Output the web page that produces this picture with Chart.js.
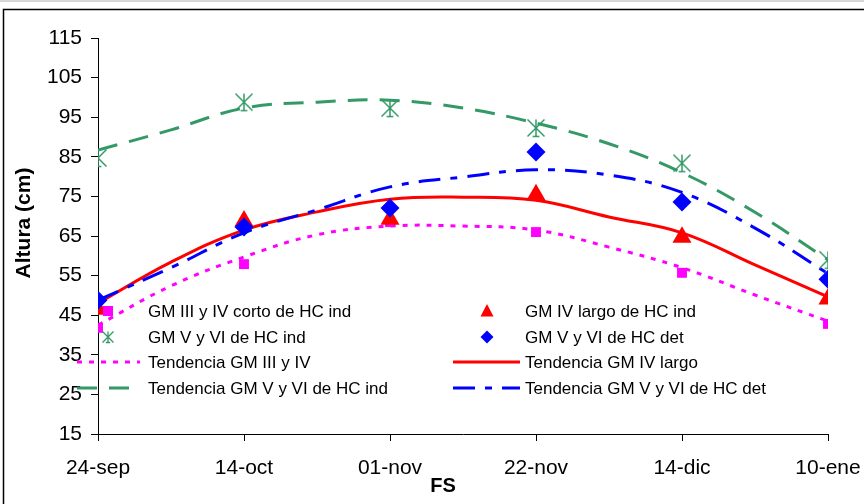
<!DOCTYPE html>
<html lang="es">
<head>
<meta charset="UTF-8">
<title>Altura (cm) por FS</title>
<script src="https://cdn.jsdelivr.net/npm/chart.js"></script>
<style>
  body { margin: 0; background: #fff; }
  canvas { display: block; }
</style>
</head>
<body>
<canvas id="grafico" width="864" height="504"></canvas>
<script>
// fechas de siembra (eje X, categorias equiespaciadas)
const fechas = ['24-sep', '14-oct', '01-nov', '22-nov', '14-dic', '10-ene'];
const posFechas = [0, 1, 2, 3, 4, 5];

// alturas medidas (cm)
const gm34Corto = [41.8, 57.9, 68.5, 66.0, 55.7, 42.8];
const gm4Largo  = [46.5, 68.8, 69.2, 75.4, 64.7, 49.1];
const gm56Ind   = [84.7, 98.8, 97.3, 92.3, 83.4, 59.0];
const gm56Det   = [48.8, 67.3, 72.1, 86.2, 73.6, 54.1];

const posTend   = [0, 0.5, 1, 1.5, 2, 2.5, 3, 3.5, 4, 4.5, 5];
const tend34    = [42.5, 52.4, 59.7, 65.3, 67.5, 67.5, 66.5, 62.2, 57.0, 50.1, 43.5];
const tend4L    = [48.0, 58.4, 66.5, 71.1, 74.3, 74.8, 74.0, 69.8, 65.8, 57.7, 49.6];
const tend56Ind = [86.7, 91.8, 97.3, 98.8, 99.3, 97.3, 93.5, 88.3, 81.0, 71.0, 59.0];
const tend56Det = [48.8, 57.0, 65.8, 71.6, 77.4, 79.9, 81.7, 80.4, 76.0, 67.0, 55.5];

const yTicks = [15, 25, 35, 45, 55, 65, 75, 85, 95, 105, 115];

const FONT = '"Liberation Sans", Arial, sans-serif';
const MAGENTA = '#FF00FF', ROJO = '#FF0000', VERDE = '#339966', AZUL = '#0000FF';

function pares(xs, ys) {
  return ys.map((v, i) => ({ x: xs[i], y: v }));
}

// asterisco tipo Excel
function dibujaEstrella(ctx, x, y, s, color, lw) {
  ctx.save();
  ctx.strokeStyle = color;
  ctx.lineWidth = lw;
  ctx.beginPath();
  ctx.moveTo(x - s, y - s); ctx.lineTo(x + s, y + s);
  ctx.moveTo(x + s, y - s); ctx.lineTo(x - s, y + s);
  ctx.moveTo(x, y - s); ctx.lineTo(x, y + s);
  ctx.moveTo(x - s * 0.4, y + s); ctx.lineTo(x + s * 0.4, y + s);
  ctx.stroke();
  ctx.restore();
}

const estrella = document.createElement('canvas');
estrella.width = 20; estrella.height = 20;
dibujaEstrella(estrella.getContext('2d'), 10, 10, 8.5, VERDE, 1.5);

function dibujaMarca(ctx, tipo, x, y, color) {
  ctx.save();
  ctx.fillStyle = color;
  ctx.beginPath();
  if (tipo === 'rect') {
    ctx.rect(x - 5, y - 5, 10, 10);
    ctx.fill();
  } else if (tipo === 'triangle') {
    ctx.moveTo(x, y - 7); ctx.lineTo(x + 6.5, y + 5.5); ctx.lineTo(x - 6.5, y + 5.5);
    ctx.closePath(); ctx.fill();
  } else if (tipo === 'rectRot') {
    ctx.moveTo(x, y - 6.5); ctx.lineTo(x + 6.5, y); ctx.lineTo(x, y + 6.5); ctx.lineTo(x - 6.5, y);
    ctx.closePath(); ctx.fill();
  } else if (tipo === 'star') {
    dibujaEstrella(ctx, x, y, 5.5, color, 1.3);
  }
  ctx.restore();
}

const leyenda = {
  id: 'leyenda',
  afterDraw(chart) {
    const ctx = chart.ctx;
    const filas = [311, 337, 362, 388];
    const cols = [{ c: 108, l0: 77, l1: 140, t: 148 }, { c: 487, l0: 453, l1: 520, t: 525 }];
    const orden = [0, 1, 2, 3, 4, 5, 6, 7];
    orden.forEach((di, k) => {
      const ds = chart.data.datasets[di];
      const col = cols[k % 2];
      const y = filas[Math.floor(k / 2)];
      if (ds.showLine === false) {
        dibujaMarca(ctx, ds.marca, col.c, y, ds.backgroundColor);
      } else {
        ctx.save();
        ctx.strokeStyle = ds.borderColor;
        ctx.lineWidth = 3;
        ctx.setLineDash(ds.borderDash || []);
        ctx.beginPath();
        ctx.moveTo(col.l0, y); ctx.lineTo(col.l1, y);
        ctx.stroke();
        ctx.restore();
      }
      ctx.save();
      ctx.fillStyle = '#000';
      ctx.font = '17px ' + FONT;
      ctx.textBaseline = 'middle';
      ctx.fillText(ds.label, col.t, y + 1);
      ctx.restore();
    });

    // titulos de ejes
    ctx.save();
    ctx.fillStyle = '#000';
    ctx.font = 'bold 21px ' + FONT;
    ctx.textAlign = 'center';
    ctx.textBaseline = 'middle';
    ctx.translate(24, 223);
    ctx.rotate(-Math.PI / 2);
    ctx.fillText('Altura (cm)', 0, 0);
    ctx.restore();

    ctx.save();
    ctx.fillStyle = '#000';
    ctx.font = 'bold 20px ' + FONT;
    ctx.textAlign = 'center';
    ctx.textBaseline = 'middle';
    ctx.fillText('FS', 443, 486);
    ctx.restore();

    // marco exterior
    ctx.save();
    ctx.strokeStyle = '#000';
    ctx.lineWidth = 1.5;
    ctx.strokeRect(3.5, 9.5, 900, 600);
    ctx.strokeStyle = '#c8c8c8';
    ctx.beginPath(); ctx.moveTo(0, 1); ctx.lineTo(864, 1); ctx.stroke();
    ctx.restore();
  }
};

const fondo = {
  id: 'fondo',
  beforeDraw(chart) {
    const ctx = chart.ctx;
    ctx.save();
    ctx.fillStyle = '#fff';
    ctx.fillRect(0, 0, chart.width, chart.height);
    ctx.restore();
  }
};

new Chart(document.getElementById('grafico'), {
  type: 'scatter',
  data: {
    datasets: [
      { label: 'GM III y IV corto de HC ind', data: pares(posFechas, gm34Corto), showLine: false, marca: 'rect',
        pointStyle: 'rect', pointRadius: 7, backgroundColor: MAGENTA, borderColor: MAGENTA, borderWidth: 0, order: 4 },
      { label: 'GM IV largo de HC ind', data: pares(posFechas, gm4Largo), showLine: false, marca: 'triangle',
        pointStyle: 'triangle', pointRadius: 11, backgroundColor: ROJO, borderColor: ROJO, borderWidth: 0, order: 3 },
      { label: 'GM V y VI de HC ind', data: pares(posFechas, gm56Ind), showLine: false, marca: 'star',
        pointStyle: estrella, backgroundColor: VERDE, borderColor: VERDE, order: 2 },
      { label: 'GM V y VI de HC det', data: pares(posFechas, gm56Det), showLine: false, marca: 'rectRot',
        pointStyle: 'rectRot', pointRadius: 9.5, backgroundColor: AZUL, borderColor: AZUL, borderWidth: 0, order: 1 },
      { label: 'Tendencia GM III y IV', data: pares(posTend, tend34), showLine: true, pointRadius: 0,
        borderColor: MAGENTA, borderWidth: 3, borderDash: [5, 7], tension: 0.4, order: 8 },
      { label: 'Tendencia GM IV largo', data: pares(posTend, tend4L), showLine: true, pointRadius: 0,
        borderColor: ROJO, borderWidth: 3, tension: 0.4, order: 7 },
      { label: 'Tendencia GM V y VI de HC ind', data: pares(posTend, tend56Ind), showLine: true, pointRadius: 0,
        borderColor: VERDE, borderWidth: 3, borderDash: [20, 12], tension: 0.4, order: 6 },
      { label: 'Tendencia GM V y VI de HC det', data: pares(posTend, tend56Det), showLine: true, pointRadius: 0,
        borderColor: AZUL, borderWidth: 3, borderDash: [22, 10, 7, 10], tension: 0.4, order: 5 }
    ]
  },
  options: {
    responsive: false,
    animation: false,
    layout: { padding: { top: 38, right: 36, left: 0, bottom: 0 } },
    plugins: { legend: { display: false }, tooltip: { enabled: false } },
    scales: {
      x: {
        type: 'linear', min: 0, max: 5,
        afterFit: s => { s.height = 70; s.paddingLeft = 0; s.paddingRight = 0; },
        afterBuildTicks: s => { s.ticks = posFechas.map(v => ({ value: v })); },
        ticks: {
          callback: v => fechas[v] ?? '',
          color: '#000', font: { family: FONT, size: 21 }, padding: 15, maxRotation: 0, autoSkip: false
        },
        grid: { drawOnChartArea: false, drawTicks: true, tickLength: 7, color: '#000' },
        border: { color: '#000', width: 1 }
      },
      y: {
        min: 15, max: 115,
        afterFit: s => { s.width = 98; s.paddingTop = 0; s.paddingBottom = 0; },
        afterBuildTicks: s => { s.ticks = yTicks.map(v => ({ value: v })); },
        ticks: { color: '#000', font: { family: FONT, size: 21 }, padding: 9 },
        grid: { drawOnChartArea: false, drawTicks: true, tickLength: 7, color: '#000' },
        border: { color: '#000', width: 1 }
      }
    }
  },
  plugins: [fondo, leyenda]
});
</script>
</body>
</html>
